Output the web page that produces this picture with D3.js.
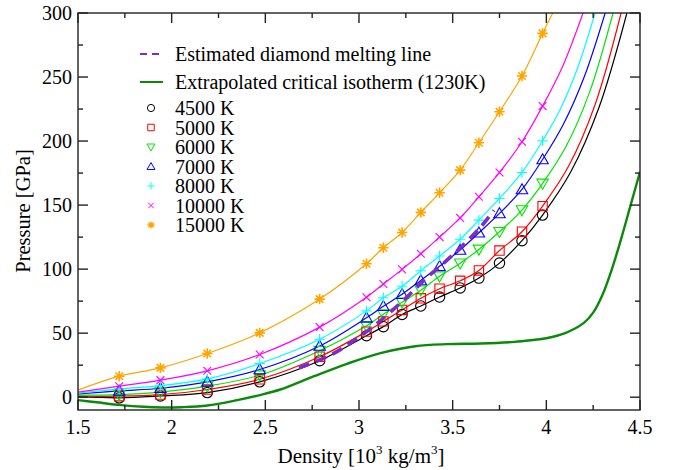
<!DOCTYPE html>
<html>
<head>
<meta charset="utf-8">
<script src="https://cdn.jsdelivr.net/npm/d3@7/dist/d3.min.js"></script>
<style>
  html, body { margin: 0; padding: 0; background: #fff; }
  svg text { font-family: "Liberation Serif", "Times New Roman", serif; fill: #000; }
</style>
</head>
<body>
<svg id="chart" width="674" height="470"></svg>
<script>
// Densities (10^3 kg/m^3) at which each isotherm was sampled
const density = [1.72, 1.94, 2.19, 2.47, 2.79, 3.04, 3.13, 3.23, 3.33, 3.43, 3.54, 3.64, 3.75, 3.87, 3.98];

// Pressure (GPa) for each isotherm
const p4500  = [-0.5, 1.0, 3.6, 12.0, 28.5, 48.0, 55.1, 64.6, 71.2, 78.2, 85.3, 93.0, 104.7, 122.2, 142.2];
const p5000  = [0.8, 2.0, 6.0, 14.0, 31.6, 51.2, 59.2, 68.1, 77.2, 84.7, 90.9, 99.0, 114.5, 129.2, 149.2];
const p6000  = [2.0, 4.0, 8.6, 17.2, 36.3, 55.7, 64.8, 74.1, 83.5, 94.4, 104.6, 115.4, 129.2, 146.1, 166.9];
const p7000  = [4.9, 7.0, 12.0, 21.6, 40.0, 62.0, 71.0, 80.4, 91.2, 102.2, 115.0, 128.4, 143.5, 162.2, 185.6];
const p8000  = [6.5, 9.0, 14.3, 26.3, 45.3, 67.4, 77.6, 86.6, 98.7, 110.3, 123.3, 138.3, 155.2, 175.5, 200.3];
const p10000 = [8.6, 13.3, 20.6, 33.3, 54.7, 78.0, 88.4, 99.8, 112.0, 125.0, 140.0, 156.5, 175.5, 199.5, 227.3];
const p15000 = [16.4, 22.9, 34.1, 50.2, 76.6, 104.2, 116.7, 128.6, 144.3, 159.6, 177.3, 198.7, 222.9, 250.8, 284.1];

const temperatures = ["4500 K", "5000 K", "6000 K", "7000 K", "8000 K", "10000 K", "15000 K"];
const pressures = [p4500, p5000, p6000, p7000, p8000, p10000, p15000];

// Fitted isotherm curves: value at the left edge and the continuation past the last sample
const fitStartP = [0.4, 0.8, 1.6, 2.5, 3.2, 4.0, 5.5];
const fitTailDensity = [[4.13, 4.28, 4.43], [4.12, 4.26, 4.399], [4.105, 4.23, 4.356], [4.091, 4.202, 4.314], [4.073, 4.167, 4.26], [4.088, 4.196], [4.034]];
const fitTailP       = [[175.8, 225.8, 300], [180.7, 228.4, 300], [195.7, 237.8, 300],  [213.1, 250.0, 300],  [224.5, 257.1, 300], [258.7, 300],  [300]];

// Estimated diamond melting line
const meltDensity = [2.68, 2.85, 3.00, 3.10, 3.24, 3.36, 3.50, 3.65, 3.72];
const meltP       = [23, 33, 47, 58, 76, 93, 111, 133, 146];

// Extrapolated critical isotherm (1230 K)
const critDensity = [1.50, 1.60, 1.73, 1.85, 1.95, 2.05, 2.19, 2.35, 2.47, 2.58, 2.76, 2.94, 3.12, 3.30, 3.47, 3.65, 3.83, 3.92, 4.00, 4.10, 4.20, 4.25, 4.30, 4.35, 4.40, 4.45, 4.50];
const critP       = [-2.3, -4.0, -6.2, -7.5, -8.0, -7.8, -6.5, -2.3, 1.6, 6.0, 16.4, 26.3, 34.6, 39.8, 41.4, 41.9, 43.2, 44.5, 46.0, 50.0, 58.0, 66.0, 80.0, 100, 124, 150, 176];

const xTicks = [1.5, 2, 2.5, 3, 3.5, 4, 4.5];
const yTicks = [0, 50, 100, 150, 200, 250, 300];

// ---- appearance ----
const colors = ["#000000", "#ff0000", "#00e600", "#0000ff", "#00ffff", "#ff00ff", "#ffa500"];
const markerKinds = ["circle", "square", "triDown", "triUp", "plus", "cross", "star"];
const meltColor = "#7a2ccc";
const critColor = "#0a8a0a";

const svg = d3.select("#chart");
const plotL = 78, plotR = 640, plotT = 13, plotB = 410;
const x = d3.scaleLinear().domain([1.5, 4.5]).range([plotL, plotR]);
const y = d3.scaleLinear().domain([-10, 300]).range([plotB, plotT]);

function markerPath(kind, s) {
  switch (kind) {
    case "circle": return `M${s},0A${s},${s} 0 1,1 ${-s},0A${s},${s} 0 1,1 ${s},0Z`;
    case "square": { const h = s * 0.9; return `M${-h},${-h}H${h}V${h}H${-h}Z`; }
    case "triUp":  { const t = s * 1.1; return `M0,${-t}L${t},${t * 0.75}L${-t},${t * 0.75}Z`; }
    case "triDown":{ const t = s * 1.1; return `M0,${t}L${t},${-t * 0.75}L${-t},${-t * 0.75}Z`; }
    case "plus":   return `M${-s},0H${s}M0,${-s}V${s}`;
    case "cross":  { const c = s * 0.75; return `M${-c},${-c}L${c},${c}M${-c},${c}L${c},${-c}`; }
    case "star":   { const c = s * 0.72; return `M${-s},0H${s}M0,${-s}V${s}M${-c},${-c}L${c},${c}M${-c},${c}L${c},${-c}`; }
  }
}

svg.append("defs").append("clipPath").attr("id", "plotClip")
  .append("rect").attr("x", plotL).attr("y", plotT).attr("width", plotR - plotL).attr("height", plotB - plotT);

const plot = svg.append("g").attr("clip-path", "url(#plotClip)");
const line = d3.line().x(d => x(d[0])).y(d => y(d[1])).curve(d3.curveCatmullRom.alpha(0.5));

// Critical isotherm
plot.append("path")
  .attr("d", line(critDensity.map((d, i) => [d, critP[i]])))
  .attr("fill", "none").attr("stroke", critColor).attr("stroke-width", 2.4);

// Fitted isotherms
pressures.forEach((ps, k) => {
  const pts = [[1.5, fitStartP[k]]]
    .concat(density.map((d, i) => [d, ps[i]]))
    .concat(fitTailDensity[k].map((d, i) => [d, fitTailP[k][i]]));
  plot.append("path")
    .attr("d", line(pts))
    .attr("fill", "none").attr("stroke", colors[k]).attr("stroke-width", 1.2);
});

// Sample markers
pressures.forEach((ps, k) => {
  plot.append("g").selectAll("path").data(density.map((d, i) => [d, ps[i]]))
    .join("path")
    .attr("transform", d => `translate(${x(d[0])},${y(d[1])})`)
    .attr("d", markerPath(markerKinds[k], 5.2))
    .attr("fill", "none").attr("stroke", colors[k])
    .attr("stroke-width", k === 6 ? 1.6 : 1.1);
});

// Melting line
plot.append("path")
  .attr("d", line(meltDensity.map((d, i) => [d, meltP[i]])))
  .attr("fill", "none").attr("stroke", meltColor).attr("stroke-width", 3.6)
  .attr("stroke-dasharray", "11,7");

// ---- frame and ticks ----
const frame = svg.append("g").attr("stroke", "#222").attr("stroke-width", 1.4);
frame.append("rect").attr("x", plotL).attr("y", plotT).attr("width", plotR - plotL).attr("height", plotB - plotT).attr("fill", "none");

const xMinor = d3.range(1.75, 4.5, 0.5);
const yMinor = d3.range(25, 300, 50);

xTicks.concat(xMinor).forEach(v => {
  const len = xTicks.includes(v) ? 10 : 5;
  frame.append("line").attr("x1", x(v)).attr("x2", x(v)).attr("y1", plotB).attr("y2", plotB - len);
  frame.append("line").attr("x1", x(v)).attr("x2", x(v)).attr("y1", plotT).attr("y2", plotT + len);
});
yTicks.concat(yMinor).forEach(v => {
  const len = yTicks.includes(v) ? 10 : 5;
  frame.append("line").attr("y1", y(v)).attr("y2", y(v)).attr("x1", plotL).attr("x2", plotL + len);
  frame.append("line").attr("y1", y(v)).attr("y2", y(v)).attr("x1", plotR).attr("x2", plotR - len);
});

// Tick labels
svg.append("g").selectAll("text").data(xTicks).join("text")
  .attr("x", d => x(d)).attr("y", 434).attr("text-anchor", "middle")
  .attr("font-size", 20).text(d => d);
svg.append("g").selectAll("text").data(yTicks).join("text")
  .attr("x", 72).attr("y", d => y(d) + 7).attr("text-anchor", "end")
  .attr("font-size", 20).text(d => d);

// Axis titles
const xt = svg.append("text").attr("x", 361).attr("y", 463).attr("text-anchor", "middle").attr("font-size", 21);
xt.append("tspan").text("Density [10");
xt.append("tspan").attr("dy", -9).attr("font-size", 13).text("3");
xt.append("tspan").attr("dy", 9).text(" kg/m");
xt.append("tspan").attr("dy", -9).attr("font-size", 13).text("3");
xt.append("tspan").attr("dy", 9).text("]");

svg.append("text").attr("transform", "translate(30,211) rotate(-90)")
  .attr("text-anchor", "middle").attr("font-size", 20.5).text("Pressure [GPa]");

// ---- legend ----
const legend = svg.append("g");
const lx0 = 140, lx1 = 163, tx = 175;
legend.append("line").attr("x1", lx0).attr("x2", lx1).attr("y1", 54).attr("y2", 54)
  .attr("stroke", meltColor).attr("stroke-width", 2).attr("stroke-dasharray", "7,5");
legend.append("text").attr("x", tx).attr("y", 61).attr("font-size", 20).text("Estimated diamond melting line");
legend.append("line").attr("x1", lx0).attr("x2", lx1).attr("y1", 82).attr("y2", 82)
  .attr("stroke", critColor).attr("stroke-width", 2);
legend.append("text").attr("x", tx).attr("y", 89).attr("font-size", 20).text("Extrapolated critical isotherm (1230K)");

const rowY = [108, 127.5, 147, 166.5, 186, 205.5, 225];
temperatures.forEach((t, k) => {
  legend.append("path").attr("transform", `translate(151,${rowY[k]})`)
    .attr("d", markerPath(markerKinds[k], 3.6))
    .attr("fill", "none").attr("stroke", colors[k]).attr("stroke-width", k === 6 ? 1.4 : 1);
  legend.append("text").attr("x", tx).attr("y", rowY[k] + 7).attr("font-size", 20).text(t);
});
</script>
</body>
</html>
